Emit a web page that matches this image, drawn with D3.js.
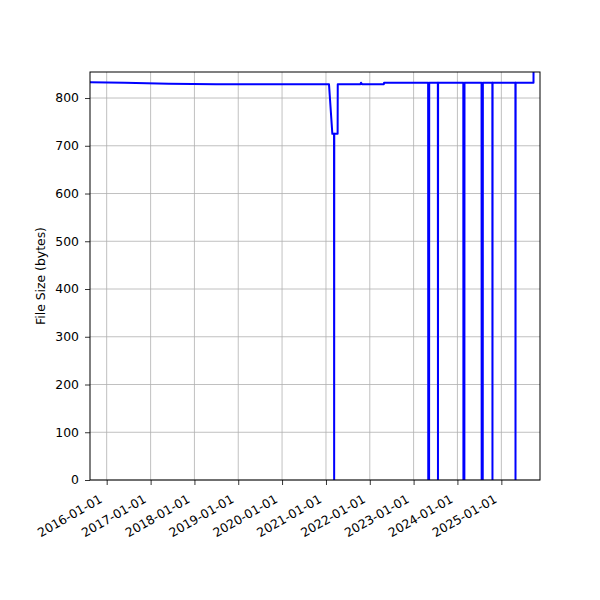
<!DOCTYPE html>
<html>
<head>
    <meta charset="UTF-8">
    <title>File Size</title>
    <script src="https://d3js.org/d3.v7.min.js"></script>
    <style type="text/css">
        body { margin: 0; background: white; }
        text { font-family: "DejaVu Sans", sans-serif; fill: black; }
    </style>
</head>
<body>
    <svg id="chart"></svg>

    <script>
        const width = 600;
        const height = 600;
        const margins = { top: 72, bottom: 120, left: 90, right: 60 };
        const fontSize = "12.4px";

        // series
        const dates = [
            "2015-08-01", "2016-06-01", "2017-06-01", "2018-07-01",
            "2021-01-26", "2021-02-23", "2021-03-09", "2021-03-10", "2021-03-11", "2021-04-08", "2021-04-09",
            "2021-10-15", "2021-10-20", "2021-10-28", "2022-04-28", "2022-04-30",
            "2023-05-02", "2023-05-03", "2023-05-10", "2023-05-11",
            "2023-07-22", "2023-07-23", "2023-07-24",
            "2024-02-19", "2024-02-20", "2024-02-28", "2024-02-29",
            "2024-07-20", "2024-07-21", "2024-07-30", "2024-07-31",
            "2024-10-18", "2024-10-19", "2024-10-20",
            "2025-04-28", "2025-04-29", "2025-04-30",
            "2025-09-26", "2025-09-27"
        ];
        const sizes = [
            833, 832, 830, 829,
            829, 725, 725, 0, 725, 725, 829,
            829, 832, 829, 829, 832,
            832, 0, 0, 832,
            832, 0, 832,
            832, 0, 0, 832,
            832, 0, 0, 832,
            832, 0, 832,
            832, 0, 832,
            832, 1700
        ];
        const yTicks = [0, 100, 200, 300, 400, 500, 600, 700, 800];
        const xTickYears = [2016, 2017, 2018, 2019, 2020, 2021, 2022, 2023, 2024, 2025];
        const yLabel = "File Size (bytes)";

        const parse = d3.timeParse("%Y-%m-%d");
        const fmt = d3.timeFormat("%Y-%m-%d");
        const data = dates.map((d, i) => ({ date: parse(d), size: sizes[i] }));

        const innerW = width - margins.left - margins.right;
        const innerH = height - margins.top - margins.bottom;

        const x = d3.scaleTime()
            .domain([parse("2015-08-15"), parse("2025-11-19")])
            .range([0, innerW]);
        const y = d3.scaleLinear()
            .domain([0, 854.5])
            .range([innerH, 0]);

        const svg = d3.select("#chart")
            .attr("width", width)
            .attr("height", height);

        const chart = svg.append("g")
            .attr("transform", `translate(${margins.left},${margins.top})`);

        chart.append("defs").append("clipPath")
            .attr("id", "plotClip")
            .append("rect")
            .attr("width", innerW)
            .attr("height", innerH);

        const xTicks = xTickYears.map(yr => new Date(yr, 0, 1));

        // grid
        chart.selectAll(".vgrid").data(xTicks).enter()
            .append("line")
            .attr("x1", d => x(d)).attr("x2", d => x(d))
            .attr("y1", 0).attr("y2", innerH)
            .style("stroke", "#b0b0b0")
            .style("stroke-width", 0.8);
        chart.selectAll(".hgrid").data(yTicks).enter()
            .append("line")
            .attr("x1", 0).attr("x2", innerW)
            .attr("y1", d => y(d)).attr("y2", d => y(d))
            .style("stroke", "#b0b0b0")
            .style("stroke-width", 0.8);

        const line = d3.line()
            .x(d => x(d.date))
            .y(d => y(d.size));

        chart.append("path")
            .datum(data)
            .attr("d", line)
            .attr("clip-path", "url(#plotClip)")
            .style("fill", "none")
            .style("stroke", "blue")
            .style("stroke-width", 2)
            .style("stroke-linejoin", "round");

        // axes
        const yAxis = chart.append("g")
            .call(d3.axisLeft(y).tickValues(yTicks).tickSize(5).tickPadding(6));
        const xAxis = chart.append("g")
            .attr("transform", `translate(0,${innerH})`)
            .call(d3.axisBottom(x).tickValues(xTicks).tickFormat(fmt).tickSize(5));

        [yAxis, xAxis].forEach(a => {
            a.select(".domain").remove();
            a.selectAll("line").style("stroke", "black").style("stroke-width", 0.8);
            a.selectAll("text").style("font-size", fontSize).style("font-family", "DejaVu Sans");
        });

        xAxis.selectAll("text")
            .attr("y", null).attr("dy", null)
            .attr("text-anchor", "end")
            .attr("transform", "translate(-4,21.5) rotate(-30)");

        chart.append("rect")
            .attr("width", innerW)
            .attr("height", innerH)
            .style("fill", "none")
            .style("stroke", "black")
            .style("stroke-width", 1);

        chart.append("text")
            .attr("transform", `translate(${-45},${innerH / 2}) rotate(-90)`)
            .attr("text-anchor", "middle")
            .style("font-size", fontSize)
            .text(yLabel);
    </script>
</body>
</html>
